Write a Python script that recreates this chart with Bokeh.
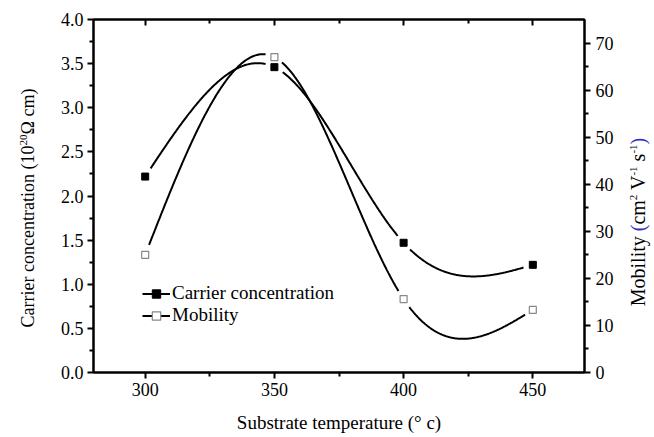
import numpy as np
from bokeh.plotting import figure
from bokeh.layouts import row
from bokeh.models import (Range1d, LinearAxis, FixedTicker, NumeralTickFormatter,
                          Legend, LegendItem, CustomJSTickFormatter, Div)
from bokeh.embed import file_html
from bokeh.resources import INLINE

# ---------------- data ----------------
temperature = [300, 350, 400, 450]
carrier = [2.22, 3.46, 1.47, 1.22]          # 10^20 ohm cm (left axis)
mobility = [25.0, 67.0, 15.6, 13.3]         # cm^2 V^-1 s^-1 (right axis)

x_ticks = [300, 350, 400, 450]
x_minor = [325, 375, 425]
left_ticks = [0.0, 0.5, 1.0, 1.5, 2.0, 2.5, 3.0, 3.5, 4.0]
left_minor = [0.25, 0.75, 1.25, 1.75, 2.25, 2.75, 3.25, 3.75]
right_ticks = [0, 10, 20, 30, 40, 50, 60, 70]
right_minor = [5, 15, 25, 35, 45, 55, 65]

x_title = "Substrate temperature (° c)"

X0, X1 = 280, 470
YL0, YL1 = 0, 4.0
YR0, YR1 = 0, 75

FW, FH = 491, 353
FONT = "Liberation Serif"
GAP = 9.0


def natural_spline(xs, ys, n=500):
    xs = np.asarray(xs, float)
    ys = np.asarray(ys, float)
    k = len(xs)
    h = np.diff(xs)
    A = np.zeros((k, k))
    r = np.zeros(k)
    A[0, 0] = 1
    A[-1, -1] = 1
    for i in range(1, k - 1):
        A[i, i - 1] = h[i - 1]
        A[i, i] = 2 * (h[i - 1] + h[i])
        A[i, i + 1] = h[i]
        r[i] = 6 * ((ys[i + 1] - ys[i]) / h[i] - (ys[i] - ys[i - 1]) / h[i - 1])
    M = np.linalg.solve(A, r)
    xx = np.linspace(xs[0], xs[-1], n)
    idx = np.clip(np.searchsorted(xs, xx) - 1, 0, k - 2)
    x0 = xs[idx]
    x1 = xs[idx + 1]
    hh = x1 - x0
    yy = (M[idx] * (x1 - xx) ** 3 / (6 * hh) + M[idx + 1] * (xx - x0) ** 3 / (6 * hh)
          + (ys[idx] / hh - M[idx] * hh / 6) * (x1 - xx)
          + (ys[idx + 1] / hh - M[idx + 1] * hh / 6) * (xx - x0))
    return xx, yy


def gapped(xs, ys, xx, yy, ylo, yhi):
    sx = FW / (X1 - X0)
    sy = FH / (yhi - ylo)
    d = np.full(xx.shape, np.inf)
    for a, b in zip(xs, ys):
        d = np.minimum(d, np.hypot((xx - a) * sx, (yy - b) * sy))
    yy = yy.copy()
    yy[d < GAP] = np.nan
    return xx, yy


p = figure(frame_width=FW, frame_height=FH,
           min_border_left=53, min_border_right=41, min_border_top=19, min_border_bottom=64,
           x_range=Range1d(X0, X1), y_range=Range1d(YL0, YL1),
           output_backend="svg", toolbar_location=None)
p.extra_y_ranges = {"mob": Range1d(YR0, YR1)}
p.xgrid.visible = False
p.ygrid.visible = False
p.outline_line_color = "black"
p.outline_line_width = 2
p.background_fill_color = "white"
p.border_fill_color = "white"


def style_axis(ax, ticks, minor, tick_out=True):
    ax.ticker = FixedTicker(ticks=ticks, minor_ticks=minor)
    ax.axis_line_width = 2
    ax.axis_line_color = "black"
    ax.major_tick_line_width = 2
    ax.minor_tick_line_width = 2
    ax.major_tick_line_color = "black"
    ax.minor_tick_line_color = "black"
    if tick_out:
        ax.major_tick_out = 6
        ax.major_tick_in = 0
        ax.minor_tick_out = 4
        ax.minor_tick_in = 0
    else:
        ax.major_tick_out = 0
        ax.major_tick_in = 6
        ax.minor_tick_out = 0
        ax.minor_tick_in = 4
    ax.major_label_text_font = FONT
    ax.major_label_text_font_size = "18px"
    ax.major_label_text_color = "black"
    ax.axis_label_text_font = FONT
    ax.axis_label_text_font_size = "19px"
    ax.axis_label_text_font_style = "normal"
    ax.axis_label_text_color = "black"


bx = p.xaxis[0]
style_axis(bx, x_ticks, x_minor)
bx.axis_label = x_title
bx.major_label_standoff = 4
bx.axis_label_standoff = 13

ly = p.yaxis[0]
style_axis(ly, left_ticks, left_minor)
ly.formatter = NumeralTickFormatter(format="0.0")
ly.major_label_standoff = 4

ry = LinearAxis(y_range_name="mob")
style_axis(ry, right_ticks, right_minor)
ry.major_label_standoff = 5
p.add_layout(ry, "right")

tx = LinearAxis()
style_axis(tx, x_ticks, x_minor, tick_out=False)
tx.formatter = CustomJSTickFormatter(code="return ''")
tx.major_label_standoff = 0
tx.axis_label_standoff = 0
p.add_layout(tx, "above")

# curves
cx, cy = natural_spline(temperature, carrier)
cx, cy = gapped(temperature, carrier, cx, cy, YL0, YL1)
mx, my = natural_spline(temperature, mobility)
mx, my = gapped(temperature, mobility, mx, my, YR0, YR1)

c_line = p.line(cx, cy, line_color="black", line_width=2)
m_line = p.line(mx, my, line_color="black", line_width=2, y_range_name="mob")
c_pts = p.scatter(temperature, carrier, marker="square", size=7,
                  fill_color="black", line_color="black", line_width=1)
m_pts = p.scatter(temperature, mobility, marker="square", size=7,
                  fill_color="white", line_color="#888888", line_width=1.2,
                  y_range_name="mob")

legend = Legend(items=[
    LegendItem(label="Carrier concentration", renderers=[c_line, c_pts]),
    LegendItem(label="Mobility", renderers=[m_line, m_pts]),
], location=(49, 46))
legend.label_text_font = FONT
legend.label_text_font_size = "19px"
legend.label_text_color = "black"
legend.background_fill_alpha = 0
legend.border_line_alpha = 0
legend.padding = 0
legend.spacing = 0
legend.margin = 0
legend.glyph_width = 28
legend.glyph_height = 21
legend.label_height = 21
legend.label_standoff = 2
p.add_layout(legend, "center")


def vertical_title(inner_html, width, cx, cy, size):
    html = (
        f'<div style="position:relative;width:{width}px;height:436px;overflow:visible;">'
        f'<div style="position:absolute;left:{cx}px;top:{cy}px;'
        'transform:translate(-50%,-50%) rotate(-90deg);white-space:nowrap;'
        f"font-family:'Liberation Serif';font-size:{size}px;line-height:1;color:#000;\">"
        f'{inner_html}</div></div>'
    )
    return Div(text=html, width=width, height=436, margin=0)


SUP = '<sup style="font-size:11px">{}</sup>'
left_title = vertical_title(
    'Carrier concentration (10' + SUP.format('20') + '&#937; cm)', 40, 27, 208, 18)
right_title = vertical_title(
    'Mobility <span style="color:#3333bb">(</span>cm' + SUP.format('2') + ' V'
    + SUP.format('-1') + ' s' + SUP.format('-1') + '<span style="color:#3333bb">)</span>',
    26, 13, 222, 20)

layout = row(left_title, p, right_title, spacing=0)
open("out.html", "w").write(file_html(layout, INLINE))
